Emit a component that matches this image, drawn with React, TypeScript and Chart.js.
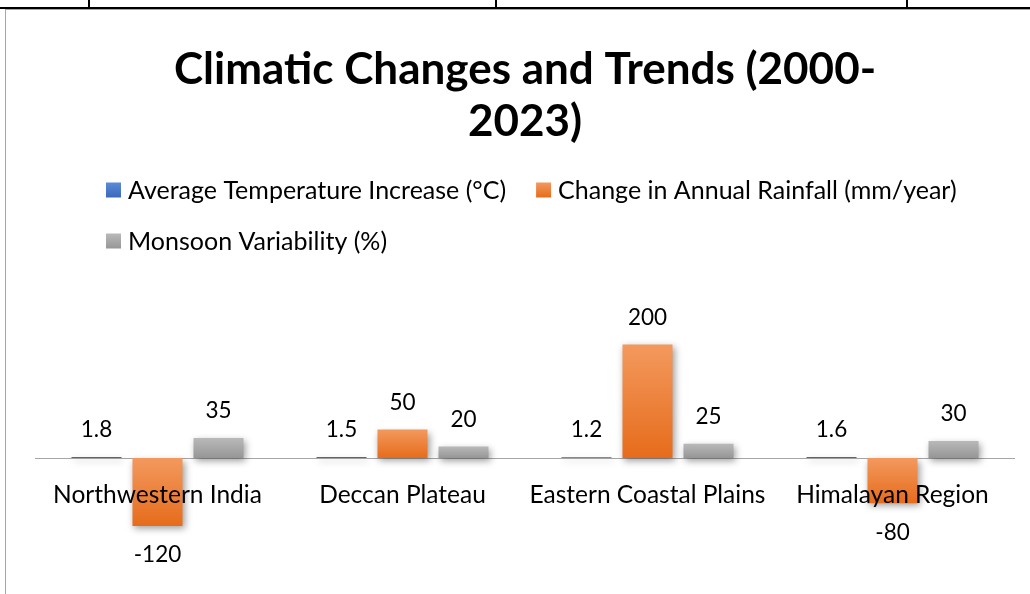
import React, { useEffect, useRef } from "react";
import { Chart, registerables } from "chart.js";

Chart.register(...registerables);

const categories = ["Northwestern India", "Deccan Plateau", "Eastern Coastal Plains", "Himalayan Region"];
const temperatureIncrease = [1.8, 1.5, 1.2, 1.6];
const rainfallChange = [-120, 50, 200, -80];
const monsoonVariability = [35, 20, 25, 30];
const seriesNames = [
  "Average Temperature Increase (°C)",
  "Change in Annual Rainfall (mm/year)",
  "Monsoon Variability (%)",
];
const titleLines = ["Climatic Changes and Trends (2000-", "2023)"];

const FONT = "Lato, 'Open Sans', sans-serif";
const TEXT_SIZE = 24.5;
const LEGEND_SIZE = 25;
const VALUE_SIZE = 22.5;
const palettes: [string, string][] = [
  ["#5b8bd8", "#3c68bb"],
  ["#f3995e", "#e66c1b"],
  ["#b9b9b9", "#969696"],
];

function barGradient(i: number) {
  return (ctx: any) => {
    const chart = ctx.chart;
    const y = chart.scales && chart.scales.y;
    if (ctx.type !== "data" || !y) return palettes[i][1];
    const v = ctx.raw as number;
    const p0 = y.getPixelForValue(0);
    const p1 = y.getPixelForValue(v);
    if (!Number.isFinite(p0) || !Number.isFinite(p1) || Math.abs(p1 - p0) < 2) return palettes[i][1];
    const g = chart.ctx.createLinearGradient(0, Math.min(p0, p1), 0, Math.max(p0, p1));
    g.addColorStop(0, palettes[i][0]);
    g.addColorStop(1, palettes[i][1]);
    return g;
  };
}

const zeroLinePlugin = {
  id: "zeroLine",
  beforeDatasetsDraw(chart: any) {
    const { ctx, chartArea, scales } = chart;
    const y0 = Math.round(scales.y.getPixelForValue(0)) + 0.5;
    ctx.save();
    ctx.strokeStyle = "#a6a6a6";
    ctx.lineWidth = 1;
    ctx.beginPath();
    ctx.moveTo(chartArea.left, y0);
    ctx.lineTo(chartArea.right, y0);
    ctx.stroke();
    ctx.restore();
  },
};

const shadowPlugin = {
  id: "barShadow",
  beforeDatasetsDraw(chart: any) {
    const c = chart.ctx;
    c.save();
    c.shadowColor = "rgba(0,0,0,0.38)";
    c.shadowBlur = 7;
    c.shadowOffsetX = 2;
    c.shadowOffsetY = 3;
  },
  afterDatasetsDraw(chart: any) {
    chart.ctx.restore();
  },
};

const valueLabelPlugin = {
  id: "valueLabels",
  afterDraw(chart: any) {
    const ctx = chart.ctx;
    ctx.save();
    ctx.font = `${VALUE_SIZE}px ${FONT}`;
    ctx.fillStyle = "#000";
    ctx.textAlign = "center";
    ctx.textBaseline = "middle";
    chart.data.datasets.forEach((ds: any, di: number) => {
      const meta = chart.getDatasetMeta(di);
      meta.data.forEach((bar: any, i: number) => {
        const v = ds.data[i];
        const y = v >= 0 ? bar.y - 27 : bar.y + 29;
        ctx.fillText(String(v), bar.x, y);
      });
    });
    ctx.restore();
  },
};

const legendPlugin = {
  id: "customLegend",
  afterDraw(chart: any) {
    const ctx = chart.ctx;
    ctx.save();
    ctx.font = `${LEGEND_SIZE}px ${FONT}`;
    ctx.textBaseline = "middle";
    ctx.textAlign = "left";
    const left = 100;
    const maxRight = 995;
    const rowY = [180, 231];
    const box = 15;
    const boxGap = 7;
    const itemGap = 30;
    let x = left;
    let row = 0;
    seriesNames.forEach((name, i) => {
      const w = box + boxGap + ctx.measureText(name).width;
      if (x > left && x + w > maxRight) {
        row += 1;
        x = left;
      }
      const cy = rowY[row];
      const g = ctx.createLinearGradient(0, cy - box / 2, 0, cy + box / 2);
      g.addColorStop(0, palettes[i][0]);
      g.addColorStop(1, palettes[i][1]);
      ctx.fillStyle = g;
      ctx.fillRect(x, cy - box / 2, box, box);
      ctx.fillStyle = "#000";
      ctx.fillText(name, x + box + boxGap, cy + 1);
      x += w + itemGap;
    });
    ctx.restore();
  },
};

export default function App() {
  const canvasRef = useRef<HTMLCanvasElement | null>(null);

  useEffect(() => {
    if (!canvasRef.current) return;
    const chart = new Chart(canvasRef.current, {
      type: "bar",
      data: {
        labels: categories,
        datasets: [
          { label: seriesNames[0], data: temperatureIncrease, backgroundColor: barGradient(0) },
          { label: seriesNames[1], data: rainfallChange, backgroundColor: barGradient(1) },
          { label: seriesNames[2], data: monsoonVariability, backgroundColor: barGradient(2) },
        ],
      },
      options: {
        responsive: false,
        animation: false,
        layout: { padding: { left: 29, right: 15, top: 0, bottom: 22.6 } },
        datasets: { bar: { categoryPercentage: 0.747, barPercentage: 0.82 } },
        scales: {
          x: {
            position: { y: 0 } as any,
            grid: { display: false, drawTicks: false },
            border: { display: false },
            ticks: {
              z: 1,
              font: { family: FONT, size: TEXT_SIZE },
              color: "#000",
              padding: 22,
              maxRotation: 0,
              autoSkip: false,
            },
          },
          y: { display: false, min: -200, max: 250 },
        },
        plugins: {
          legend: { display: false },
          tooltip: { enabled: false },
          title: {
            display: true,
            text: titleLines,
            color: "#000",
            font: { family: FONT, size: 44, weight: "bold", lineHeight: 1.18 },
            padding: { top: 34, bottom: 168.25 },
          },
        },
      },
      plugins: [zeroLinePlugin, shadowPlugin, valueLabelPlugin, legendPlugin],
    });
    return () => chart.destroy();
  }, []);

  return (
    <div style={{ position: "absolute", left: 0, top: 0, width: 1030, height: 594, overflow: "hidden", background: "#fff" }}>
      <div style={{ position: "absolute", left: 0, top: 7, width: 1030, height: 2, background: "#000" }} />
      <div style={{ position: "absolute", left: 88, top: 0, width: 2, height: 8, background: "#000" }} />
      <div style={{ position: "absolute", left: 495, top: 0, width: 2, height: 8, background: "#000" }} />
      <div style={{ position: "absolute", left: 906, top: 0, width: 2, height: 8, background: "#000" }} />
      <div
        style={{
          position: "absolute",
          left: 5,
          top: 9,
          width: 1025,
          height: 585,
          borderLeft: "1px solid #a6a6a6",
          borderTop: "1px solid #a6a6a6",
          boxSizing: "border-box",
        }}
      >
        <canvas ref={canvasRef} width={1024} height={584} style={{ display: "block", width: 1024, height: 584 }} />
      </div>
    </div>
  );
}
